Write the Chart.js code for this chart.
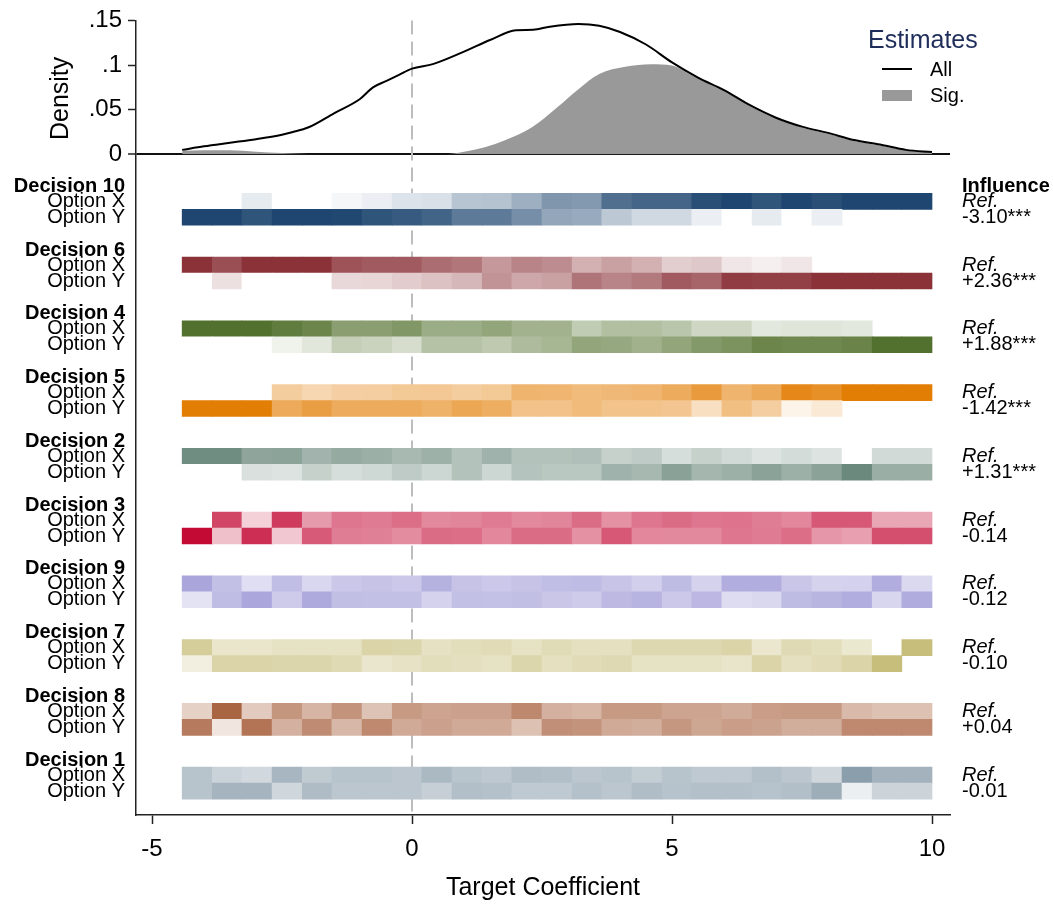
<!DOCTYPE html>
<html><head><meta charset="utf-8">
<script src="https://cdn.jsdelivr.net/npm/chart.js@4.4.1/dist/chart.umd.min.js"></script>
<style>html,body{margin:0;padding:0;background:#fff}#wrap{width:1053px;height:907px}</style>
</head><body><div id="wrap"><canvas id="c" width="1053" height="907"></canvas></div>
<script>
// ---------------- DATA ----------------
const densityX = [-4.42,-4.0,-3.5,-3.0,-2.5,-2.29,-2.0,-1.5,-1.0,-0.75,-0.5,-0.25,0,0.4,1.0,1.5,2.0,2.33,2.65,3.2,3.6,4.0,4.5,5.0,5.5,6.0,6.5,7.0,7.5,8.0,8.5,9.0,9.5,10.0];
const densityAll = [0.005,0.009,0.013,0.017,0.022,0.025,0.030,0.046,0.062,0.075,0.082,0.089,0.096,0.101,0.115,0.128,0.139,0.1395,0.143,0.146,0.144,0.137,0.123,0.103,0.086,0.072,0.055,0.041,0.031,0.024,0.016,0.011,0.005,0.0025];
const sigX = [-4.42,-4.0,-3.5,-3.0,-2.5,-2.0,-1.5,0.5,0.8,1.0,1.4,1.8,2.3,2.8,3.2,3.6,4.1,4.6,5.0,5.4,5.8,6.0,6.5,7.0,7.5,8.0,8.5,9.0,9.5,10.0];
const sigY = [0.004,0.0045,0.0045,0.003,0.0015,0.0005,0,0,0.001,0.003,0.008,0.016,0.030,0.053,0.073,0.090,0.098,0.101,0.0995,0.088,0.077,0.0715,0.054,0.040,0.030,0.023,0.015,0.010,0.0045,0.002];

const densityTicks = [0, 0.05, 0.1, 0.15];
const xTicks = [-5, 0, 5, 10];
const binEdges = [-4.42,-3.84,-3.27,-2.69,-2.11,-1.54,-0.96,-0.38,0.19,0.77,1.35,1.92,2.50,3.08,3.65,4.23,4.81,5.38,5.96,6.54,7.11,7.69,8.27,8.85,9.42,10.0];

const decisions = ['Decision 10','Decision 6','Decision 4','Decision 5','Decision 2','Decision 3','Decision 9','Decision 7','Decision 8','Decision 1'];
const influence = ['-3.10***','+2.36***','+1.88***','-1.42***','+1.31***','-0.14','-0.12','-0.10','+0.04','-0.01'];
const optionLabels = ['Option X','Option Y'];
const baseColors = [[30,70,112],[138,50,56],[83,113,46],[227,126,5],[108,137,125],[195,10,53],[160,155,215],[200,190,124],[169,100,66],[139,158,172]];

// intensity (0 = white, 1 = full colour); null = no cell
const optionXShares = [
 [0,0,0.11,0,0,0.05,0.09,0.15,0.17,0.32,0.33,0.43,0.57,0.55,0.78,0.83,0.83,0.95,1,0.92,1,0.95,1,1,1],
 [1,0.86,1,1,1,0.84,0.8,0.8,0.71,0.67,0.5,0.6,0.56,0.38,0.46,0.38,0.24,0.27,0.12,0.08,0.12,null,null,null,null],
 [1,1,1,0.92,0.86,0.68,0.68,0.73,0.58,0.58,0.63,0.54,0.54,0.36,0.45,0.45,0.4,0.28,0.28,0.16,0.18,0.18,0.16,null,null],
 [0,0,0,0.39,0.31,0.37,0.38,0.42,0.43,0.39,0.42,0.58,0.57,0.53,0.55,0.57,0.65,0.78,0.58,0.67,0.92,0.86,1,1,1],
 [0.97,0.97,0.76,0.78,0.64,0.72,0.68,0.59,0.66,0.52,0.65,0.52,0.52,0.54,0.39,0.44,0.28,0.39,0.31,0.24,0.3,0.24,0,0.31,0.31],
 [0,0.76,0.19,0.8,0.41,0.56,0.54,0.59,0.48,0.5,0.54,0.48,0.5,0.6,0.45,0.56,0.6,0.56,0.57,0.53,0.49,0.68,0.68,0.36,0.36],
 [0.89,0.63,0.33,0.65,0.4,0.56,0.6,0.55,0.77,0.6,0.55,0.6,0.65,0.68,0.59,0.48,0.67,0.45,0.82,0.82,0.57,0.45,0.46,0.82,0.38],
 [0.77,0.39,0.39,0.45,0.45,0.45,0.66,0.63,0.46,0.52,0.55,0.45,0.54,0.48,0.48,0.6,0.6,0.6,0.66,0.37,0.57,0.51,0.36,0,1],
 [0.3,1,0.34,0.68,0.48,0.7,0.39,0.65,0.59,0.61,0.61,0.77,0.51,0.47,0.65,0.65,0.59,0.59,0.54,0.63,0.65,0.65,0.45,0.4,0.4],
 [0.61,0.45,0.4,0.75,0.55,0.61,0.61,0.59,0.72,0.6,0.57,0.68,0.66,0.59,0.61,0.52,0.61,0.56,0.56,0.65,0.59,0.41,1,0.79,0.79]
];
const optionYShares = [
 [1,1,0.92,1,1,0.99,0.92,0.89,0.84,0.72,0.72,0.61,0.48,0.46,0.30,0.21,0.21,0.09,0,0.11,0,0.09,null,null,null],
 [0,0.15,0,0,0,0.19,0.2,0.25,0.3,0.35,0.53,0.43,0.46,0.68,0.6,0.65,0.8,0.75,0.95,0.93,0.93,1,1,1,1],
 [0,0,0,0.09,0.17,0.34,0.31,0.24,0.43,0.43,0.38,0.47,0.51,0.63,0.61,0.55,0.63,0.72,0.76,0.86,0.84,0.84,0.87,1,1],
 [1,1,1,0.66,0.75,0.65,0.65,0.65,0.6,0.68,0.63,0.47,0.47,0.53,0.46,0.46,0.44,0.25,0.5,0.38,0.09,0.17,null,null,null],
 [0,0,0.26,0.24,0.39,0.28,0.33,0.44,0.35,0.52,0.35,0.51,0.47,0.47,0.65,0.6,0.8,0.62,0.67,0.79,0.67,0.79,1,0.69,0.69],
 [1,0.26,0.85,0.23,0.67,0.53,0.52,0.47,0.6,0.59,0.49,0.6,0.6,0.45,0.68,0.49,0.48,0.48,0.56,0.54,0.59,0.43,0.39,0.72,0.72],
 [0.28,0.66,0.88,0.52,0.85,0.64,0.63,0.63,0.45,0.63,0.62,0.64,0.57,0.52,0.7,0.75,0.55,0.71,0.35,0.39,0.67,0.74,0.82,0.41,0.83],
 [0.24,0.66,0.66,0.63,0.63,0.57,0.38,0.44,0.52,0.5,0.45,0.63,0.48,0.55,0.58,0.45,0.45,0.45,0.4,0.66,0.48,0.55,0.66,1,null],
 [0.85,0.17,0.9,0.51,0.74,0.46,0.76,0.55,0.61,0.55,0.55,0.4,0.72,0.7,0.55,0.53,0.67,0.57,0.63,0.6,0.53,0.53,0.76,0.76,0.76],
 [0.61,0.77,0.77,0.41,0.69,0.59,0.59,0.59,0.49,0.66,0.64,0.56,0.56,0.64,0.59,0.68,0.62,0.65,0.65,0.62,0.66,0.84,0.16,0.44,0.44]
];

// ---------------- LAYOUT / STYLE ----------------
const FONT = "'Liberation Sans', Arial, Helvetica, sans-serif";
Chart.defaults.font.family = FONT;
Chart.defaults.color = '#000';
const ROW_FIRST = 2.95, GROUP_STEP = 4, HEAT_MAX = 41.45;
const X_MIN = -5.3077, X_MAX = 10.346;

function mix(rgb, t) {
  const c = rgb.map(v => Math.round(255 - t * (255 - v)));
  return 'rgb(' + c.join(',') + ')';
}

const heatCells = [];
decisions.forEach((name, g) => {
  [optionXShares[g], optionYShares[g]].forEach((row, r) => {
    const pos = ROW_FIRST + g * GROUP_STEP + r;
    row.forEach((t, i) => {
      if (t === null) return;
      heatCells.push({x: [binEdges[i], binEdges[i + 1]], y: pos, t: t, g: g});
    });
  });
});

const decor = {
  id: 'decor',
  beforeDatasetsDraw(chart) {
    const {ctx, chartArea, scales} = chart;
    const x0 = scales.x.getPixelForValue(0);
    ctx.save();
    ctx.strokeStyle = '#bdbdbd';
    ctx.lineWidth = 2;
    ctx.setLineDash([14, 7]);
    ctx.beginPath();
    ctx.moveTo(x0, chartArea.top);
    ctx.lineTo(x0, chartArea.bottom);
    ctx.stroke();
    ctx.restore();
  },
  afterDraw(chart) {
    const {ctx, chartArea, scales} = chart;
    const yH = scales.yH, yD = scales.yD;
    ctx.save();
    // Density title
    ctx.translate(61, (yD.top + yD.bottom) / 2 + 11);
    ctx.rotate(-Math.PI / 2);
    ctx.font = '25px ' + FONT;
    ctx.fillStyle = '#000';
    ctx.textAlign = 'center';
    ctx.textBaseline = 'middle';
    ctx.fillText('Density', 0, 0);
    ctx.restore();

    ctx.save();
    ctx.fillStyle = '#000';
    ctx.textBaseline = 'middle';
    const lx = chartArea.left - 11, rx = chartArea.right + 12;
    decisions.forEach((name, g) => {
      const yx = yH.getPixelForValue(ROW_FIRST + g * GROUP_STEP);
      const yy = yH.getPixelForValue(ROW_FIRST + g * GROUP_STEP + 1);
      ctx.textAlign = 'right';
      ctx.font = 'bold 20px ' + FONT;
      ctx.fillText(name, lx, yx - 15);
      ctx.font = '20px ' + FONT;
      ctx.fillText(optionLabels[0], lx, yx);
      ctx.fillText(optionLabels[1], lx, yy);
      ctx.textAlign = 'left';
      if (g === 0) {
        ctx.font = 'bold 20px ' + FONT;
        ctx.fillText('Influence', rx, yx - 15);
      }
      ctx.font = 'italic 20px ' + FONT;
      ctx.fillText('Ref.', rx, yx);
      ctx.font = '20px ' + FONT;
      ctx.fillText(influence[g], rx, yy);
    });
    ctx.restore();

    // Legend
    const dsAll = chart.data.datasets[1], dsSig = chart.data.datasets[0];
    ctx.save();
    ctx.textBaseline = 'middle';
    ctx.textAlign = 'left';
    ctx.fillStyle = '#1f2d5a';
    ctx.font = '25px ' + FONT;
    ctx.fillText('Estimates', 868, 41);
    ctx.strokeStyle = dsAll.borderColor;
    ctx.lineWidth = 2;
    ctx.beginPath(); ctx.moveTo(882, 69); ctx.lineTo(912, 69); ctx.stroke();
    ctx.fillStyle = dsSig.backgroundColor;
    ctx.fillRect(882, 90, 30, 11);
    ctx.fillStyle = '#000';
    ctx.font = '20px ' + FONT;
    ctx.fillText(dsAll.label, 930, 70);
    ctx.fillText(dsSig.label, 930, 96);
    ctx.restore();
  }
};

new Chart(document.getElementById('c'), {
  type: 'bar',
  data: {
    datasets: [
      { type: 'line', label: 'Sig.', data: sigX.map((x, i) => ({x: x, y: sigY[i]})),
        xAxisID: 'x', yAxisID: 'yD', fill: 'origin', backgroundColor: '#999999',
        borderColor: 'rgba(0,0,0,0)', borderWidth: 0, pointRadius: 0, cubicInterpolationMode: 'monotone', order: 3 },
      { type: 'line', label: 'All', data: densityX.map((x, i) => ({x: x, y: densityAll[i]})),
        xAxisID: 'x', yAxisID: 'yD', fill: false, borderColor: '#000', borderWidth: 2,
        pointRadius: 0, cubicInterpolationMode: 'monotone', order: 1 },
      { type: 'bar', label: 'cells', indexAxis: 'y', data: heatCells, xAxisID: 'x', yAxisID: 'yH',
        backgroundColor: c => c.raw ? mix(baseColors[c.raw.g], c.raw.t) : '#fff',
        borderWidth: 0, barPercentage: 1, categoryPercentage: 1, order: 2 }
    ]
  },
  options: {
    responsive: false,
    animation: false,
    layout: { padding: { left: 0, right: 103, top: 20, bottom: 0 } },
    plugins: { legend: { display: false }, tooltip: { enabled: false } },
    scales: {
      x: {
        type: 'linear', position: 'bottom', min: X_MIN, max: X_MAX, offset: false,
        afterBuildTicks: s => { s.ticks = xTicks.map(v => ({value: v})); },
        afterFit: s => { s.height = 92; },
        grid: { drawOnChartArea: false, drawTicks: true, tickLength: 9, tickColor: '#222', tickWidth: 1.5, offset: false },
        border: { color: '#222', width: 1.5 },
        ticks: { font: { size: 24 }, color: '#000', padding: 11, maxRotation: 0, autoSkip: false, callback: v => String(v) },
        title: { display: true, text: 'Target Coefficient', font: { size: 25 }, color: '#000', padding: { top: 0, bottom: 4 } }
      },
      yH: {
        type: 'linear', position: 'left', stack: 'v', stackWeight: 661, reverse: true,
        min: 0, max: HEAT_MAX, offset: false,
        afterFit: s => { s.width = 136; },
        grid: { display: true, drawOnChartArea: false, drawTicks: false, color: 'rgba(0,0,0,0)', offset: false },
        border: { display: true, color: '#222', width: 1.5 },
        ticks: { display: false, stepSize: 10 }
      },
      yD: {
        type: 'linear', position: 'left', stack: 'v', stackWeight: 134,
        min: 0, max: 0.15, offset: false,
        afterBuildTicks: s => { s.ticks = densityTicks.map(v => ({value: v})); },
        afterFit: s => { s.width = 136; },
        grid: {
          drawOnChartArea: true, drawTicks: true, tickLength: 8, tickColor: '#222', tickWidth: 1.5,
          color: c => (c.tick && c.tick.value === 0) ? '#111' : 'rgba(0,0,0,0)',
          lineWidth: c => (c.tick && c.tick.value === 0) ? 2 : 1
        },
        border: { display: true, color: '#222', width: 1.5 },
        ticks: { font: { size: 24 }, color: '#000', padding: 6, autoSkip: false,
          callback: v => v === 0 ? '0' : v.toFixed(2).replace(/0+$/, '').replace(/^0/, '') }
      }
    }
  },
  plugins: [decor]
});
</script></body></html>
